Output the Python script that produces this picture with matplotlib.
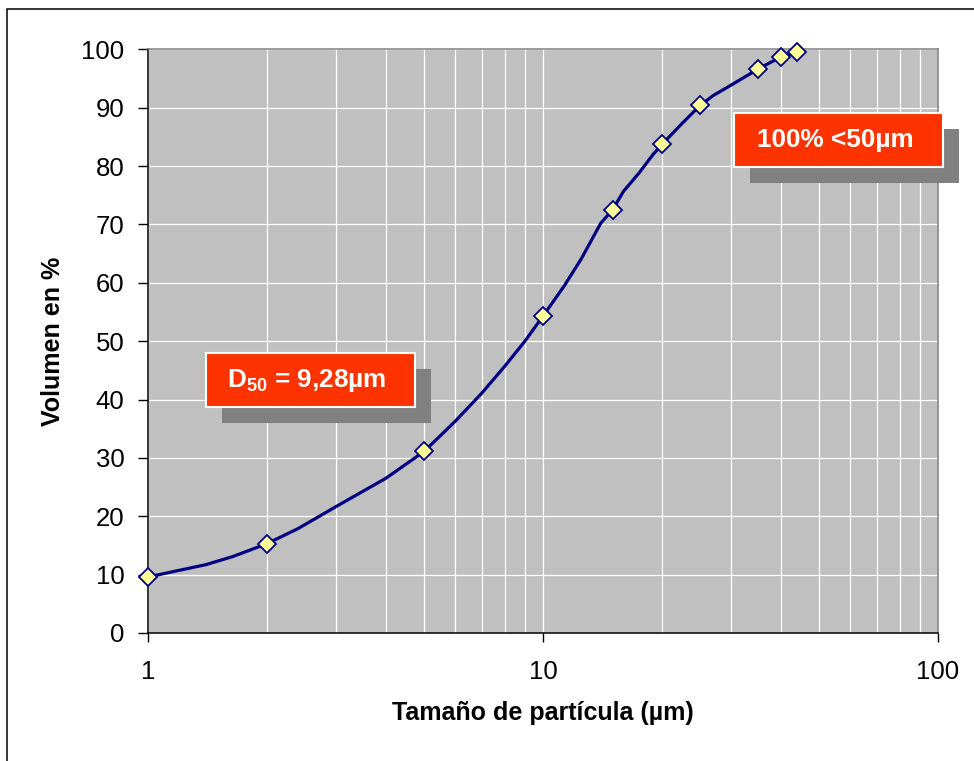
import matplotlib
matplotlib.use('Agg')
from matplotlib import pyplot as plt
from matplotlib.patches import Rectangle
from matplotlib.ticker import LogLocator, NullFormatter, FixedLocator

plt.rcParams['font.family'] = ['Liberation Sans', 'DejaVu Sans']
plt.rcParams['mathtext.default'] = 'regular'

# curve (particle size in um, cumulative volume %)
curve_size = [1, 1.4, 1.64, 2, 2.4, 3, 4, 5, 6, 7, 8, 9, 10, 11.3, 12.5, 14, 15,
              16, 17.5, 19, 20, 22.5, 25, 27, 30, 35, 40, 44]
curve_vol = [9.6, 11.7, 13.1, 15.3, 17.9, 21.7, 26.5, 31.1, 36.3, 41.1, 45.7, 50.0,
             54.3, 59.4, 64.1, 70.2, 72.5, 75.7, 78.8, 82.0, 83.7, 87.3, 90.4,
             92.1, 93.9, 96.6, 98.7, 99.5]

# measured points (markers)
meas_size = [1, 2, 5, 10, 15, 20, 25, 35, 40, 44]
meas_vol = [9.6, 15.3, 31.1, 54.3, 72.5, 83.7, 90.4, 96.6, 98.7, 99.5]

y_ticks = list(range(0, 101, 10))
x_ticks = [1, 10, 100]
x_tick_labels = ['1', '10', '100']

W, H = 974, 761


def fx(px):
    return px / W


def fy(py):
    return 1 - py / H


fig = plt.figure(figsize=(W / 100, H / 100), dpi=100)
fig.patch.set_facecolor('white')

# outer frame of the chart
fig.patches.append(Rectangle((fx(7), fy(800)), 1.2, fy(9) - fy(800), transform=fig.transFigure,
                             fill=False, edgecolor='black', linewidth=1.1))

ax = fig.add_axes([fx(148), fy(633), fx(938) - fx(148), fy(49.3) - fy(633)])
ax.set_facecolor('#C0C0C0')
ax.set_xscale('log')
ax.set_xlim(1, 100)
ax.set_ylim(0, 100)

ax.plot(curve_size, curve_vol, color='#000080', linewidth=2.3, zorder=3,
        solid_joinstyle='round', clip_on=False)
ax.plot(meas_size, meas_vol, linestyle='none', marker='D', markersize=9.5,
        markerfacecolor='#FFFF99', markeredgecolor='#000080', markeredgewidth=1.3,
        zorder=4, clip_on=False)

ax.xaxis.set_major_locator(FixedLocator(x_ticks))
ax.set_xticklabels(x_tick_labels)
ax.xaxis.set_minor_locator(LogLocator(base=10, subs=range(2, 10)))
ax.xaxis.set_minor_formatter(NullFormatter())
ax.set_yticks(y_ticks)

ax.grid(True, which='both', axis='x', color='white', linewidth=0.9)
ax.grid(True, which='major', axis='y', color='white', linewidth=0.9)
ax.set_axisbelow(True)

ax.tick_params(axis='y', which='major', direction='out', length=7, width=1,
               pad=10, labelsize=18.5, colors='black')
ax.tick_params(axis='x', which='major', direction='out', length=6.5, width=1,
               pad=13, labelsize=18.5)
ax.tick_params(axis='x', which='minor', length=0)

for side in ['left', 'bottom']:
    ax.spines[side].set_color('black')
    ax.spines[side].set_linewidth(1.1)
for side in ['top', 'right']:
    ax.spines[side].set_color('#808080')
    ax.spines[side].set_linewidth(1.1)

ax.set_xlabel('Tamaño de partícula (µm)', fontsize=18, fontweight='bold', labelpad=12)
ax.set_ylabel('Volumen en %', fontsize=18, fontweight='bold', labelpad=12)


def label_box(x0, y0, x1, y1, text, tx):
    # shadow first, then the red box with its white edge
    fig.patches.append(Rectangle((fx(x0 + 16), fy(y1 + 16)), fx(x1 - x0), fy(y0) - fy(y1),
                                 transform=fig.transFigure, facecolor='#808080',
                                 edgecolor='none', zorder=5))
    fig.patches.append(Rectangle((fx(x0), fy(y1)), fx(x1 - x0), fy(y0) - fy(y1),
                                 transform=fig.transFigure, facecolor='#FF3300',
                                 edgecolor='white', linewidth=1.5, zorder=6))
    fig.text(fx(tx), fy((y0 + y1) / 2), text, color='white', fontsize=18.8,
             fontweight='bold', ha='center', va='center', zorder=7)


label_box(206, 353, 415, 407, 'D$_{50}$ = 9,28µm', 307)
label_box(734, 113, 943, 167, '100% <50µm', 835)

plt.savefig('out.png', dpi=100)
